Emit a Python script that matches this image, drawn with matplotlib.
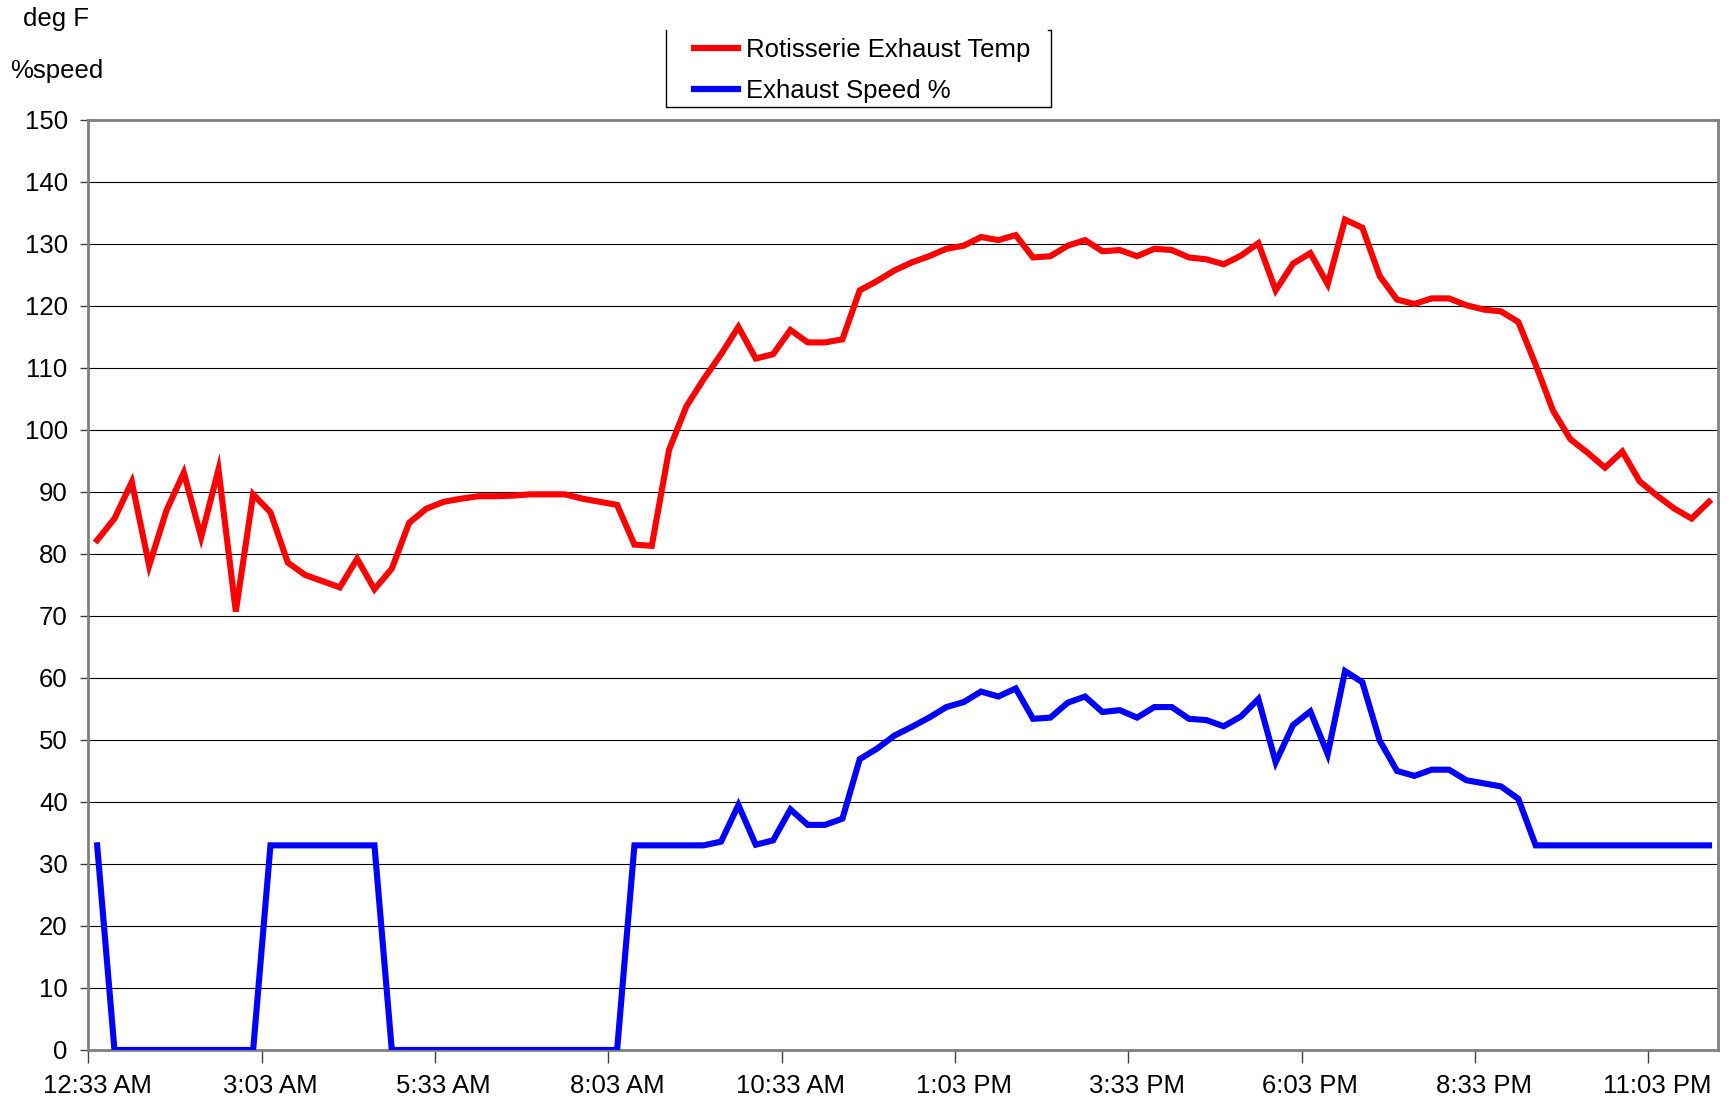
import numpy as np
import matplotlib
matplotlib.use("Agg")
import matplotlib.pyplot as plt
from matplotlib.lines import Line2D

plt.rcParams['font.family'] = ['Liberation Sans', 'DejaVu Sans']

# readings every 15 min, 12:33 AM .. 11:48 PM
temp_f = [82.2, 85.7, 91.6, 78.1, 87.0, 93.1, 82.7, 93.6, 70.7, 89.6,
          86.7, 78.6, 76.6, 75.6, 74.6, 79.2, 74.3, 77.6, 85.0, 87.3,
          88.4, 88.9, 89.3, 89.3, 89.4, 89.6, 89.6, 89.6, 88.9, 88.4,
          87.9, 81.5, 81.3, 96.8, 103.8, 108.2, 112.2, 116.6, 111.5, 112.2,
          116.1, 114.1, 114.1, 114.6, 122.5, 124.0, 125.7, 127.0, 128.0, 129.2,
          129.7, 131.1, 130.6, 131.4, 127.8, 128.0, 129.7, 130.6, 128.8, 129.0,
          128.0, 129.2, 129.0, 127.8, 127.5, 126.7, 128.1, 130.1, 122.5, 126.8,
          128.5, 123.5, 133.9, 132.6, 124.8, 121.0, 120.3, 121.2, 121.2, 120.1,
          119.4, 119.1, 117.4, 110.5, 103.1, 98.5, 96.3, 93.9, 96.5, 91.7,
          89.4, 87.3, 85.7, 88.4]

speed_pct = [33, 0, 0, 0, 0, 0, 0, 0, 0, 0,
             33, 33, 33, 33, 33, 33, 33, 0, 0, 0,
             0, 0, 0, 0, 0, 0, 0, 0, 0, 0,
             0, 33, 33, 33, 33, 33, 33.6, 39.5, 33.1, 33.8,
             38.8, 36.3, 36.3, 37.3, 46.9, 48.6, 50.7, 52.1, 53.6, 55.3,
             56.1, 57.8, 57.0, 58.3, 53.4, 53.6, 56.0, 57.0, 54.5, 54.8,
             53.6, 55.3, 55.3, 53.4, 53.2, 52.2, 53.8, 56.6, 46.4, 52.4,
             54.6, 47.7, 61.1, 59.3, 49.9, 45.0, 44.2, 45.2, 45.2, 43.5,
             43.0, 42.5, 40.5, 33, 33, 33, 33, 33, 33, 33,
             33, 33, 33, 33]

time_labels = ["12:33 AM", "3:03 AM", "5:33 AM", "8:03 AM", "10:33 AM",
               "1:03 PM", "3:33 PM", "6:03 PM", "8:33 PM", "11:03 PM"]

FS = 18.5
x = np.arange(len(temp_f))

fig = plt.figure(figsize=(17.35, 10.99), dpi=100)
ax = fig.add_axes([0.051, 0.0446, 0.939, 0.8464])

ax.plot(x, temp_f, color='#ff0000', lw=4.4, solid_joinstyle='miter',
        label='Rotisserie Exhaust Temp', zorder=3)
ax.plot(x, speed_pct, color='#0000ff', lw=4.4, solid_joinstyle='miter',
        label='Exhaust Speed %', zorder=3)

ax.set_xlim(-0.5, len(x) - 0.5)
ax.set_ylim(0, 150)
ax.set_yticks(np.arange(0, 151, 10))
ax.yaxis.grid(True, color='black', lw=0.8)
ax.set_axisbelow(True)

# ticks between categories, labels centred on categories
lab_pos = np.arange(0, len(x), 10)
ax.set_xticks(lab_pos - 0.5)
ax.set_xticklabels([''] * len(lab_pos))
ax.set_xticks(lab_pos, minor=True)
ax.set_xticklabels(time_labels, minor=True)
ax.tick_params(axis='x', which='major', length=9, width=1, color='#404040')
ax.tick_params(axis='x', which='minor', length=0, pad=17, labelsize=FS)
ax.tick_params(axis='y', length=6, width=1, color='#404040', labelsize=FS, pad=9)

for s in ax.spines.values():
    s.set_color('#808080')
    s.set_linewidth(2)

fig.text(0.013, 0.983, 'deg F', fontsize=FS, ha='left', va='center')
fig.text(0.006, 0.935, '%speed', fontsize=FS, ha='left', va='center')

# legend, box drawn by hand (open at the top like the original)
leg = ax.legend(loc='upper left', bbox_to_anchor=(0.4, 0.965), bbox_transform=fig.transFigure,
                fontsize=FS, frameon=False, handlelength=1.72,
                handletextpad=0.3, borderpad=0, labelspacing=0.65, borderaxespad=0)
for h in leg.get_lines():
    h.set_linewidth(4.5)
bx0, bx1, by0, by1 = 0.3839, 0.6058, 0.9026, 0.9727
fig.add_artist(Line2D([bx0, bx0, bx1, bx1], [by1, by0, by0, by1],
                      transform=fig.transFigure, color='black', lw=1))
fig.add_artist(Line2D([bx1 - 0.002, bx1], [by1, by1],
                      transform=fig.transFigure, color='black', lw=1))

fig.savefig('out.png', dpi=100)
